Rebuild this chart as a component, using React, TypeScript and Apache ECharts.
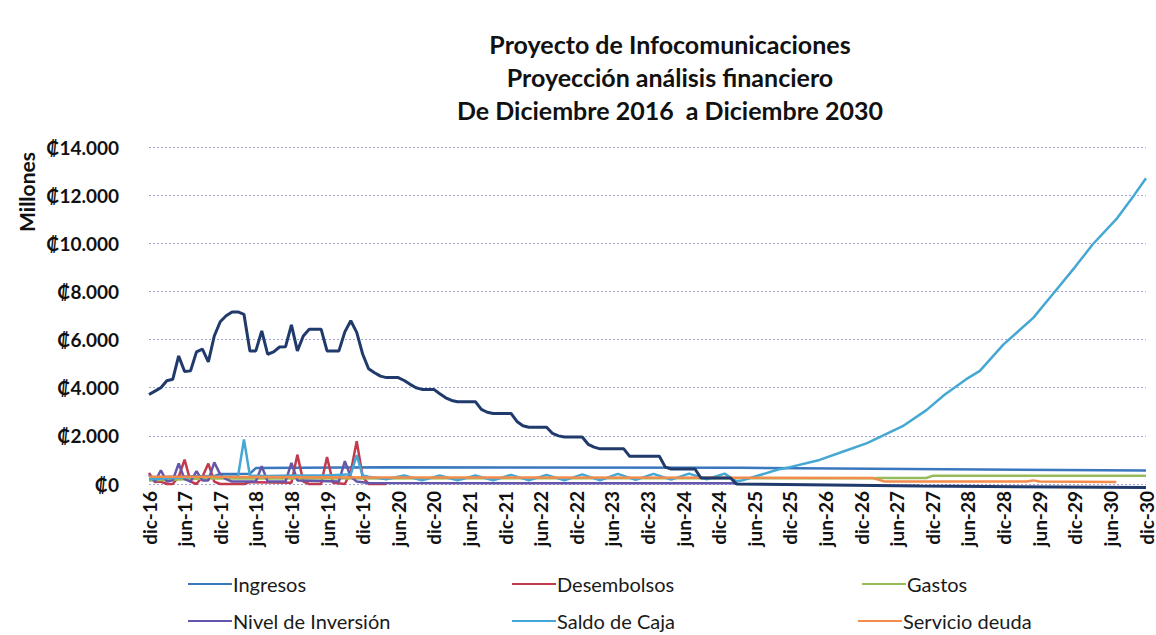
import React, { useEffect, useRef } from "react";
import * as echarts from "echarts";

const TITLE_LINES = [
  "Proyecto de Infocomunicaciones",
  "Proyección análisis financiero",
  "De Diciembre 2016  a Diciembre 2030",
];
const Y_NAME = "Millones";
const MONTHS = ["ene", "feb", "mar", "abr", "may", "jun", "jul", "ago", "sep", "oct", "nov", "dic"];
const N_MONTHS = 169; // dic-16 .. dic-30
const Y_TICKS = [0, 2000, 4000, 6000, 8000, 10000, 12000, 14000];

const LEGEND_NAMES = [
  "Ingresos",
  "Desembolsos",
  "Gastos",
  "Nivel de Inversión",
  "Saldo de Caja",
  "Servicio deuda",
];

// [month index from dic-16, value in millions]
const ingresos = [
  [0, 280], [11, 330], [12, 420], [17, 430], [18, 660], [40, 700], [100, 670], [168, 560],
];
const desembolsos = [
  [0, 460], [1, 80], [2, 100], [3, 0], [4, 0], [5, 300], [6, 1010], [7, 100], [8, 0], [9, 300],
  [10, 850], [11, 100], [12, 0], [16, 0], [17, 80], [24, 50], [25, 1220], [26, 100], [27, 0],
  [29, 0], [30, 1125], [31, 50], [33, 0], [34, 500], [35, 1780], [36, 300], [37, 0], [40, 0],
];
const gastos = [
  [0, 150], [10, 230], [122, 240], [123, 250], [131, 250], [132, 340], [168, 340],
];
const nivelInversion = [
  [0, 380], [1, 100], [2, 570], [3, 100], [4, 150], [5, 850], [6, 200], [7, 100], [8, 530],
  [9, 150], [10, 150], [11, 900], [12, 400], [13, 200], [14, 100], [18, 100], [19, 740],
  [20, 100], [23, 100], [24, 875], [25, 150], [32, 100], [33, 950], [34, 300], [35, 100],
  [37, 40], [99, 30],
];
const saldoCaja = [
  [0, 200], [4, 250], [8, 300], [12, 300], [15, 320], [16, 1850], [17, 350], [20, 330],
  [24, 350], [30, 350], [34, 400], [35, 1200], [36, 350], [37, 300], [40, 200], [43, 350],
  [46, 150], [49, 350], [52, 150], [55, 350], [58, 150], [61, 380], [64, 150], [67, 380],
  [70, 150], [73, 400], [76, 150], [79, 420], [82, 170], [85, 420], [88, 180], [91, 430],
  [94, 200], [97, 430], [99, 100], [100, 150], [102, 300], [106, 600], [108, 700],
  [113, 1000], [117, 1350], [121, 1700], [124, 2050], [127, 2400], [131, 3070], [134, 3700],
  [138, 4400], [140, 4700], [144, 5800], [149, 6900], [152, 7800], [156, 9000], [159, 9950],
  [163, 11000], [166, 12000], [168, 12700],
];
const servicioDeuda = [
  [0, 300], [40, 270], [122, 250], [124, 100], [148, 100], [149, 150], [150, 100], [163, 80],
];
// dark series drawn in the plot without a legend entry
const serieOscura = [
  [0, 3720], [1, 3860], [2, 4000], [3, 4290], [4, 4350], [5, 5320], [6, 4670], [7, 4700],
  [8, 5490], [9, 5600], [10, 5070], [11, 6150], [12, 6740], [13, 6990], [14, 7150], [15, 7150],
  [16, 7050], [17, 5530], [18, 5530], [19, 6360], [20, 5390], [21, 5490], [22, 5690],
  [23, 5700], [24, 6610], [25, 5530], [26, 6150], [27, 6430], [28, 6430], [29, 6430],
  [30, 5530], [31, 5530], [32, 5530], [33, 6320], [34, 6780], [35, 6300], [36, 5400],
  [37, 4790], [38, 4625], [39, 4480], [40, 4420], [42, 4420], [43, 4300], [44, 4140],
  [45, 4000], [46, 3930], [48, 3930], [49, 3750], [50, 3580], [51, 3470], [52, 3420],
  [55, 3420], [56, 3100], [57, 2980], [58, 2930], [61, 2930], [62, 2600], [63, 2420],
  [64, 2360], [67, 2360], [68, 2100], [69, 2000], [70, 1950], [73, 1950], [74, 1650],
  [75, 1530], [76, 1460], [80, 1460], [81, 1150], [86, 1150], [87, 700], [88, 625],
  [92, 625], [93, 250], [98, 250], [99, 0], [130, -80], [168, -150],
];

const COLORS = {
  ingresos: "#3A78BE",
  desembolsos: "#C23A4E",
  gastos: "#98BB5A",
  nivel: "#6457AA",
  saldo: "#45A7D3",
  deuda: "#F28C4C",
  oscura: "#1F3A6B",
};

const FONT = "Lato, 'Open Sans', sans-serif";

function buildCategories() {
  const out: string[] = [];
  for (let k = 0; k < N_MONTHS; k++) {
    const m = (11 + k) % 12;
    const yy = 16 + Math.floor((11 + k) / 12);
    out.push(`${MONTHS[m]}-${yy}`);
  }
  return out;
}

function fmtY(v: number) {
  if (v === 0) return "₡0";
  return "₡" + Math.floor(v / 1000) + ".000";
}

export default function App() {
  const ref = useRef<HTMLDivElement>(null);
  useEffect(() => {
    if (!ref.current) return;
    const chart = echarts.init(ref.current, undefined, { renderer: "svg" });
    const categories = buildCategories();
    const mk = (name: string, data: number[][], color: string, width = 2.5, z = 2) => ({
      name,
      type: "line",
      data,
      symbol: "none",
      clip: false,
      z,
      lineStyle: { color, width },
      itemStyle: { color },
    });
    const legendPos = [
      { left: 188, top: 574 },
      { left: 512, top: 574 },
      { left: 862, top: 574 },
      { left: 188, top: 611 },
      { left: 512, top: 611 },
      { left: 858, top: 611 },
    ];
    const option = {
      animation: false,
      backgroundColor: "#ffffff",
      textStyle: { fontFamily: FONT },
      grid: { left: 149, right: 10, top: 147, bottom: 151, containLabel: false },
      legend: LEGEND_NAMES.map((n, i) => ({
        data: [n],
        left: legendPos[i].left,
        top: legendPos[i].top,
        icon: "rect",
        itemWidth: 44,
        itemHeight: 2,
        itemGap: 0,
        padding: 0,
        selectedMode: false,
        textStyle: { fontSize: 20, color: "#1a1a1a", fontFamily: FONT, padding: [0, 0, 0, -4] },
      })),
      graphic: [
        {
          type: "text",
          x: 670,
          y: 27,
          style: {
            text: TITLE_LINES.join("\n"),
            fontSize: 25,
            fontWeight: "bold",
            fontFamily: FONT,
            fill: "#111",
            textAlign: "center",
            textVerticalAlign: "top",
            lineHeight: 33,
          },
        },
        {
          type: "text",
          x: 26,
          y: 192,
          rotation: Math.PI / 2,
          style: {
            text: Y_NAME,
            fontSize: 21,
            fontWeight: "bold",
            fontFamily: FONT,
            fill: "#111",
            textAlign: "center",
            textVerticalAlign: "middle",
          },
        },
      ],
      xAxis: {
        type: "category",
        data: categories,
        boundaryGap: false,
        axisLine: { show: false },
        axisTick: { show: false },
        splitLine: { show: false },
        axisLabel: {
          interval: 5,
          rotate: 90,
          margin: 7,
          fontSize: 19,
          fontWeight: "bold",
          color: "#111",
          fontFamily: FONT,
        },
      },
      yAxis: {
        type: "value",
        min: Y_TICKS[0],
        max: Y_TICKS[Y_TICKS.length - 1],
        interval: 2000,
        axisLine: { show: false },
        axisTick: { show: false },
        axisLabel: {
          formatter: fmtY,
          margin: 30,
          fontSize: 19,
          fontWeight: "bold",
          color: "#111",
          fontFamily: FONT,
        },
        splitLine: { lineStyle: { color: "#a4a4d8", type: [2, 2], width: 1 } },
      },
      series: [
        mk(LEGEND_NAMES[0], ingresos, COLORS.ingresos, 2.5, 2),
        mk(LEGEND_NAMES[1], desembolsos, COLORS.desembolsos, 2.5, 3),
        mk(LEGEND_NAMES[2], gastos, COLORS.gastos, 2.5, 4),
        mk(LEGEND_NAMES[3], nivelInversion, COLORS.nivel, 2.5, 5),
        mk(LEGEND_NAMES[4], saldoCaja, COLORS.saldo, 2.5, 6),
        mk(LEGEND_NAMES[5], servicioDeuda, COLORS.deuda, 2.5, 7),
        mk("Serie 7", serieOscura, COLORS.oscura, 3, 8),
      ],
    };
    chart.setOption(option as any);
    return () => chart.dispose();
  }, []);
  return (
    <div
      ref={ref}
      style={{ position: "fixed", left: 0, top: 0, width: 1156, height: 635, background: "#fff" }}
    />
  );
}
